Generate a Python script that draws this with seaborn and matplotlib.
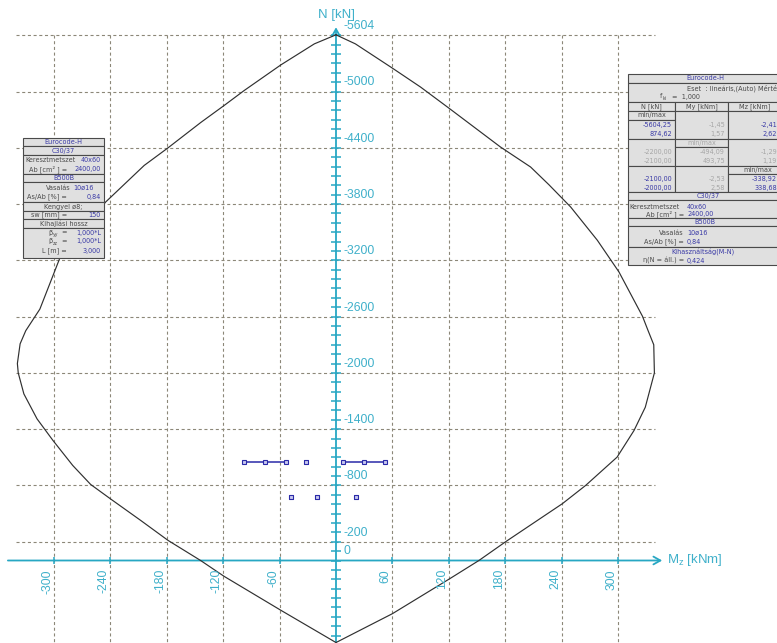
#!/usr/bin/env python3
"""
M-N interaction diagram (Eurocode-H) - recreated with seaborn/matplotlib
"""

import matplotlib
matplotlib.use('Agg')
import matplotlib.pyplot as plt
import seaborn as sns
import pandas as pd
from matplotlib.patches import Rectangle

# --- data -------------------------------------------------------------
# interaction curve, starting at the top, left side first, back to the top
curve_mz = [0, -23, -58.6, -97.6, -119, -143.8, -178.6, -204, -245, -294, -315,
            -330, -336, -338.92, -338, -332, -318, -301, -280, -261, -240,
            -207.7, -178.6, -144, -119, -58.6, 0,
            60, 121, 152, 181, 240.7, 265.5, 299, 317, 329, 338.68, 338, 332,
            326, 301, 278, 249.6, 226.5, 207, 175, 121, 90, 60, 20.6, 0]
curve_n = [-5604.25, -5508, -5284, -5011, -4851, -4670, -4400, -4212, -3822, -3218, -2680,
           -2450, -2310, -2100, -2000, -1776, -1510, -1279, -1013, -811, -658,
           -427, -214, 0, 169, 531, 874.62,
           567, 194, 0, -204, -605, -800, -1102, -1386, -1634, -2000, -2300, -2450,
           -2604, -3076, -3414, -3769, -4006, -4195, -4408, -4816, -5047, -5249, -5508, -5604.25]

# load points
load_n_upper = -1050
load_left_mz = [-98, -75, -53]
load_single_mz = [-32]
load_right_mz = [7, 30, 52]
load_n_lower = -675
load_lower_mz = [-48, -20, 21]

grid_mz = [-300, -240, -180, -120, -60, 60, 120, 180, 240, 300]
grid_n = [-5604, -5000, -4400, -3800, -3200, -2600, -2000, -1400, -800, -200]
n_tick_labels = [-5604, -5000, -4400, -3800, -3200, -2600, -2000, -1400, -800, -200, 0]
mz_tick_labels = [-300, -240, -180, -120, -60, 60, 120, 180, 240, 300]
n_minor = list(range(-5600, 801, 100))

left_table = ['Eurocode-H', 'C30/37', 'Keresztmetszet', '40x60', 'Ab [cm² ] =', '2400,00',
              'B500B', 'Vasalás', '10ø16', 'As/Ab [%] =', '0,84', 'Kengyel ø8;',
              'sw [mm] =', '150', 'Kihajlási hossz', '1,000*L', '1,000*L', 'L [m] =', '3,000']
res_n = ['-5604,25', '874,62', '-2200,00', '-2100,00', '-2100,00', '-2000,00']
res_my = ['-1,45', '1,57', '-494,09', '493,75', '-2,53', '2,58']
res_mz = ['-2,41', '2,62', '-1,29', '1,19', '-338,92', '338,68']

# --- style -------------------------------------------------------------
AXIS_C = '#27a7c3'
TICKLBL_C = '#3fb0ca'
GRID_C = '#8c8778'
CURVE_C = '#303030'
LOAD_C = '#2a2aa8'
TBL_BG = '#e0e0e0'
TBL_EDGE = '#4a4a4a'
BLUE = '#3a3aa6'
DARK = '#4a4a4a'
FADED = '#a6a6a6'
TBL_FS = 4.7

sns.set_style('white')
plt.rcParams['font.family'] = ['Liberation Sans', 'DejaVu Sans']
plt.rcParams['lines.scale_dashes'] = False

fig = plt.figure(figsize=(7.77, 6.43), dpi=100)
ax = fig.add_axes([0, 0, 1, 1])

# grid
dash = (0, (2.2, 1.9))
ax.vlines(grid_mz, -5604, 880, colors=GRID_C, linestyles=[dash], lw=0.8, zorder=1)
ax.hlines(grid_n, -340, 339, colors=GRID_C, linestyles=[dash], lw=0.8, zorder=1)

# axes with arrows
arrow = dict(arrowstyle='->,head_length=0.5,head_width=0.28', color=AXIS_C, lw=1.3,
             mutation_scale=10, shrinkA=0, shrinkB=0)
ax.annotate('', xy=(347, 0), xytext=(-349, 0), arrowprops=arrow, zorder=2)
ax.annotate('', xy=(0, -5685), xytext=(0, 890), arrowprops=arrow, zorder=2)
ax.hlines(n_minor, -5.6, 5.6, colors=AXIS_C, lw=1.1, zorder=2)
ax.vlines(grid_mz, -42, 42, colors=AXIS_C, lw=1.1, zorder=2)

# interaction curve
df_curve = pd.DataFrame({'Mz': curve_mz, 'N': curve_n})
sns.lineplot(data=df_curve, x='Mz', y='N', sort=False, estimator=None,
             color=CURVE_C, lw=0.85, ax=ax, zorder=3)

# load points
mk = dict(marker='s', markersize=3.2, markerfacecolor='#c8c8ee',
          markeredgecolor=LOAD_C, markeredgewidth=0.8)
for xs in (load_left_mz, load_right_mz):
    sns.lineplot(x=xs, y=[load_n_upper] * len(xs), sort=False, estimator=None,
                 color=LOAD_C, lw=1.1, ax=ax, zorder=4, **mk)
sns.scatterplot(x=load_single_mz, y=[load_n_upper] * len(load_single_mz), marker='s',
                s=9, color='#c8c8ee', edgecolor=LOAD_C, linewidth=0.8, ax=ax, zorder=4)
sns.scatterplot(x=load_lower_mz, y=[load_n_lower] * len(load_lower_mz), marker='s',
                s=9, color='#c8c8ee', edgecolor=LOAD_C, linewidth=0.8, ax=ax, zorder=4)

# tick labels
for v in n_tick_labels:
    ax.annotate(str(v), xy=(0, v), xytext=(5.4, 6.5), textcoords='offset points',
                ha='left', va='center', fontsize=8.7, color=TICKLBL_C, zorder=5)
for v in mz_tick_labels:
    ax.annotate(str(v), xy=(v, 0), xytext=(-0.4, -6.2), textcoords='offset points',
                rotation=90, ha='right', va='top', fontsize=8.7, color=TICKLBL_C, zorder=5)

ax.set_xlim(-357.4, 469.1)
ax.set_ylim(879.5, -5975.5)
ax.axis('off')

# --- overlay in pixel coordinates: axis titles and info tables ----------
tax = fig.add_axes([0, 0, 1, 1])
tax.set_xlim(0, 777)
tax.set_ylim(643, 0)
tax.axis('off')
tax.patch.set_alpha(0)

tax.text(337, 15, 'N [kN]', ha='center', va='center', fontsize=9.5, color=TICKLBL_C)
tax.text(667, 560, r'M$_\mathregular{z}$ [kNm]', ha='left', va='center', fontsize=9.5,
         color=TICKLBL_C)


def box(x0, y0, x1, y1, lw=0.8):
    tax.add_patch(Rectangle((x0, y0), x1 - x0, y1 - y0, fc=TBL_BG, ec=TBL_EDGE, lw=lw,
                            zorder=6, clip_on=True))


def put(x, y, s, color=DARK, ha='left', fs=TBL_FS):
    tax.text(x, y, s, color=color, ha=ha, va='center', fontsize=fs,
             family=['DejaVu Sans'], zorder=7, clip_on=True)


# left table
lt = left_table
edges = [138, 145.5, 155, 174, 182, 202, 211, 219, 228, 258]
for a, b in zip(edges[:-1], edges[1:]):
    box(23, a, 104, b)
cx = 63.5
put(cx, 141.5, lt[0], BLUE, 'center')
put(cx, 150.5, lt[1], BLUE, 'center')
put(25, 160.5, lt[2]); put(101, 160.5, lt[3], BLUE, 'right')
put(67, 169, lt[4], DARK, 'right'); put(101, 169, lt[5], BLUE, 'right')
put(cx, 178, lt[6], BLUE, 'center')
put(71, 187.5, lt[7], DARK, 'right'); put(73.5, 187.5, lt[8], BLUE)
put(67, 196.5, lt[9], DARK, 'right'); put(101, 196.5, lt[10], BLUE, 'right')
put(cx, 206.5, lt[11], DARK, 'center')
put(67, 215, lt[12], DARK, 'right'); put(101, 215, lt[13], BLUE, 'right')
put(cx, 223.5, lt[14], DARK, 'center')
for y, sub, val in ((232.5, 'yy', lt[15]), (241.5, 'zz', lt[16])):
    put(48, y, 'β')
    put(52.5, y + 2, sub, DARK, 'left', 3.3)
    put(67, y, '=', DARK, 'right')
    put(101, y, val, BLUE, 'right')
put(67, 251, lt[17], DARK, 'right'); put(101, 251, lt[18], BLUE, 'right')

# right table
x0, c1, c2, x1 = 628, 675, 728, 784
box(x0, 74, x1, 83)
put(705, 78.5, 'Eurocode-H', BLUE, 'center')
box(x0, 83, x1, 102)
put(687, 88, 'Eset  : lineáris,(Auto) Mértékadó')
put(660, 96.5, 'f'); put(663, 98.5, 'ki', DARK, 'left', 3.3); put(672, 96.5, '=  1,000')
for a, b in ((x0, c1), (c1, c2), (c2, x1)):
    box(a, 102, b, 111)
put(651.5, 106.5, 'N [kN]', DARK, 'center')
put(701.5, 106.5, 'My [kNm]', DARK, 'center')
put(755, 106.5, 'Mz [kNm]', DARK, 'center')
# block 1
box(x0, 111, c1, 120); put(651.5, 115.5, 'min/max', DARK, 'center')
box(x0, 120, c1, 139)
box(c1, 111, c2, 139); box(c2, 111, x1, 139)
# block 2
box(x0, 139, c1, 166); box(c1, 139, c2, 147); box(c1, 147, c2, 166); box(c2, 139, x1, 166)
put(701.5, 143, 'min/max', FADED, 'center')
# block 3
box(x0, 166, c1, 192); box(c1, 166, c2, 192); box(c2, 166, x1, 174); box(c2, 174, x1, 192)
put(758, 170, 'min/max', DARK, 'center')
rows_y = [125, 134, 152, 161, 179, 188]
n_col = [BLUE, BLUE, FADED, FADED, BLUE, BLUE]
mz_col = [BLUE, BLUE, FADED, FADED, BLUE, BLUE]
for i, y in enumerate(rows_y):
    put(672, y, res_n[i], n_col[i], 'right')
    put(725, y, res_my[i], FADED, 'right')
    put(777, y, res_mz[i], mz_col[i], 'right')
# material / section
box(x0, 192, x1, 200); put(708, 196, 'C30/37', BLUE, 'center')
box(x0, 200, x1, 218)
put(629, 207, 'Keresztmetszet'); put(687, 207, '40x60', BLUE)
put(684, 214, 'Ab [cm² ] =', DARK, 'right'); put(687, 214, '2400,00', BLUE)
box(x0, 218, x1, 226); put(705, 222, 'B500B', BLUE, 'center')
box(x0, 226, x1, 247)
put(684, 233, 'Vasalás', DARK, 'right'); put(687, 233, '10ø16', BLUE)
put(684, 242, 'As/Ab [%] =', DARK, 'right'); put(687, 242, '0,84', BLUE)
box(x0, 247, x1, 265)
put(703, 252, 'Kihasználtság(M-N)', BLUE, 'center')
put(684, 261, 'η(N = áll.) =', DARK, 'right'); put(687, 261, '0,424', BLUE)

fig.savefig('out.png', dpi=100, facecolor='white')
plt.close(fig)
